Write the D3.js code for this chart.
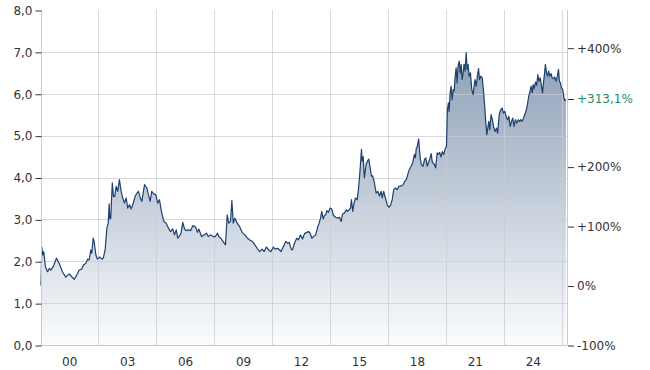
<!DOCTYPE html>
<html>
<head>
<meta charset="utf-8">
<style type="text/css">
	body{ margin:0; background:#fff; }
	svg{ display:block; font-family:"DejaVu Sans", Verdana, sans-serif; }
</style>
<script src="https://cdnjs.cloudflare.com/ajax/libs/d3/7.8.5/d3.min.js"></script>
</head>
<body>
<svg id="svg" width="650" height="370"></svg>
<script type="text/javascript">

	// decimal year of each point
	var years = [
		1999.04,1999.08,1999.13,1999.18,1999.27,1999.38,1999.48,1999.55,1999.67,1999.84,1999.98,
		2000.15,2000.32,2000.50,2000.63,2000.76,2000.89,
		2001.02,2001.14,2001.24,2001.36,2001.45,2001.53,2001.62,2001.67,2001.74,2001.79,2001.88,2001.96,
		2002.08,2002.19,2002.26,2002.36,2002.45,2002.52,2002.57,2002.60,2002.65,2002.73,2002.79,2002.86,2002.93,
		2003.01,2003.10,2003.19,2003.27,2003.36,2003.45,2003.53,2003.62,2003.71,2003.79,2003.92,
		2004.02,2004.09,2004.17,2004.26,2004.40,2004.52,2004.60,2004.69,2004.77,2004.88,2004.98,
		2005.08,2005.17,2005.29,2005.40,2005.52,2005.64,2005.74,2005.86,2005.95,
		2006.04,2006.12,2006.22,2006.29,2006.38,2006.47,2006.56,2006.67,2006.78,2006.90,
		2007.04,2007.14,2007.21,2007.35,2007.49,2007.61,2007.70,2007.83,2007.95,
		2008.07,2008.18,2008.24,2008.35,2008.47,2008.59,2008.68,2008.76,2008.85,2008.92,2008.99,
		2009.07,2009.20,2009.33,2009.45,2009.59,2009.73,2009.85,2009.99,
		2010.11,2010.23,2010.36,2010.49,2010.59,2010.71,2010.83,2010.93,2010.99,
		2011.07,2011.16,2011.30,2011.47,2011.59,2011.71,2011.81,2011.89,2011.99,
		2012.06,2012.16,2012.28,2012.37,2012.47,2012.58,2012.68,2012.80,2012.89,2012.97,
		2013.06,2013.14,2013.26,2013.37,2013.44,2013.52,2013.57,2013.65,2013.71,2013.78,2013.83,2013.92,
		2014.01,2014.09,2014.18,2014.30,2014.40,2014.49,2014.58,2014.65,2014.75,2014.84,2014.92,
		2015.06,2015.11,2015.18,2015.23,2015.32,2015.41,2015.49,2015.56,2015.63,2015.67,2015.72,2015.78,2015.87,2015.94,
		2016.01,2016.08,2016.15,2016.21,2016.30,2016.39,2016.47,2016.56,2016.65,2016.70,2016.78,2016.87,2016.96,
		2017.04,2017.13,2017.22,2017.30,2017.39,2017.48,2017.56,2017.70,2017.79,2017.87,2017.96,
		2018.05,2018.11,2018.20,2018.28,2018.37,2018.42,2018.47,2018.52,2018.59,2018.67,2018.73,2018.82,2018.90,2018.96,
		2019.03,2019.10,2019.16,2019.24,2019.30,2019.41,2019.47,2019.55,2019.61,2019.68,2019.75,2019.82,2019.89,2019.96,
		2020.03,2020.08,2020.13,2020.17,2020.22,2020.27,2020.32,2020.38,2020.43,2020.48,2020.53,2020.58,2020.63,2020.69,2020.74,2020.79,2020.84,2020.89,2020.94,2020.99,
		2021.05,2021.10,2021.15,2021.20,2021.27,2021.34,2021.41,2021.46,2021.51,2021.57,2021.63,2021.69,2021.74,2021.80,2021.88,2021.94,
		2022.01,2022.06,2022.12,2022.17,2022.22,2022.27,2022.34,2022.41,2022.48,2022.55,2022.62,2022.68,2022.76,2022.82,2022.91,2022.98,
		2023.05,2023.12,2023.19,2023.26,2023.33,2023.40,2023.46,2023.53,2023.60,2023.67,2023.75,2023.81,2023.88,2023.95,
		2024.02,2024.08,2024.15,2024.22,2024.29,2024.36,2024.41,2024.47,2024.52,2024.57,2024.64,2024.70,2024.76,2024.81,2024.88,2024.95,
		2025.00,2025.05,2025.10,2025.15,2025.21,2025.26,2025.32,2025.38,2025.45,2025.50,2025.57,2025.63,2025.71,2025.77,2025.83,2025.88,2025.93,2025.98,
		2026.05,2026.10,2026.15,2026.22
	];

	// price at each point
	var prices = [
		1.42,2.34,2.15,2.23,1.87,1.75,1.83,1.79,1.87,2.07,1.95,
		1.75,1.62,1.70,1.63,1.57,1.67,
		1.79,1.81,1.91,1.95,2.05,2.03,2.27,2.19,2.55,2.47,2.15,2.05,
		2.10,2.05,2.07,2.27,2.79,2.91,3.37,3.01,3.03,3.87,3.55,3.55,3.79,
		3.67,3.95,3.67,3.51,3.39,3.51,3.27,3.35,3.25,3.35,3.56,
		3.63,3.67,3.53,3.43,3.83,3.75,3.59,3.43,3.67,3.61,3.59,
		3.39,3.47,3.15,2.95,2.91,2.79,2.71,2.77,2.63,
		2.75,2.55,2.61,2.67,2.93,2.77,2.73,2.75,2.73,2.85,
		2.82,2.69,2.77,2.59,2.63,2.67,2.59,2.63,2.59,
		2.59,2.67,2.59,2.55,2.47,2.39,3.11,2.91,2.95,3.45,2.91,
		3.03,2.91,2.82,2.69,2.63,2.55,2.51,2.47,
		2.39,2.31,2.23,2.29,2.23,2.34,2.27,2.23,2.27,
		2.34,2.29,2.31,2.23,2.35,2.47,2.43,2.45,2.29,
		2.27,2.43,2.55,2.51,2.63,2.53,2.66,2.69,2.71,2.67,
		2.55,2.59,2.63,2.83,2.91,3.05,3.19,3.01,3.09,3.11,3.21,3.17,
		3.27,3.25,3.09,3.05,3.03,3.05,2.95,3.13,3.15,3.23,3.19,
		3.27,3.47,3.19,3.35,3.51,3.47,3.79,4.19,4.67,4.39,4.50,3.99,4.31,4.39,
		4.44,4.23,4.03,4.04,3.87,3.63,3.67,3.56,3.67,3.51,3.67,3.51,3.35,
		3.29,3.33,3.47,3.71,3.75,3.71,3.79,3.80,3.83,3.91,3.96,
		4.11,4.19,4.27,4.35,4.55,4.47,4.71,4.74,4.92,4.47,4.31,4.27,4.44,4.47,
		4.27,4.36,4.43,4.57,4.36,4.31,4.23,4.59,4.55,4.60,4.49,4.62,4.55,4.68,
		4.74,5.62,5.78,5.58,6.02,6.18,5.86,6.10,6.06,6.42,6.62,6.26,6.66,6.78,6.50,6.70,6.34,6.50,6.70,6.54,
		6.98,6.58,6.70,6.42,6.50,6.10,5.98,6.18,6.34,6.18,6.42,6.60,6.34,6.42,6.38,6.10,
		5.70,5.34,5.02,5.18,5.34,5.14,5.50,5.38,5.18,5.10,5.18,5.06,5.50,5.60,5.66,5.54,
		5.58,5.46,5.38,5.46,5.22,5.34,5.42,5.22,5.38,5.30,5.38,5.34,5.38,5.34,
		5.42,5.50,5.58,5.74,5.94,6.06,6.18,6.02,6.22,6.12,6.28,6.20,6.46,6.30,6.38,6.18,
		6.02,6.26,6.46,6.70,6.50,6.42,6.54,6.42,6.48,6.38,6.36,6.40,6.30,6.42,6.58,6.30,6.26,6.14,
		6.10,5.94,5.84,5.866
	];

	var priceTicks = [0,1,2,3,4,5,6,7,8];
	var gridPrices = [1,2,3,4,5,6,7];
	var pctTicks = [-100,0,100,200,400];
	var labelYears = [2000,2003,2006,2009,2012,2015,2018,2021,2024];
	var gridYears = [2002,2005,2008,2011,2014,2017,2020,2023,2026];
	var xRange = [1999.04, 2026.27];

	var W = 650, H = 370;
	var m = {left:41, top:10, right:83, bottom:25};
	var w = W - m.left - m.right, h = H - m.top - m.bottom;

	function toDate(y){
		var yr = Math.floor(y);
		var a = new Date(yr,0,1), b = new Date(yr+1,0,1);
		return new Date(+a + (y-yr)*(b-a));
	}

	var data = d3.zip(years, prices).map(function(d){ return {date:toDate(d[0]), v:d[1]}; });
	var base = prices[0], last = prices[prices.length-1];
	var lastPct = (last/base - 1)*100;

	var de = d3.formatLocale({decimal:",", thousands:".", grouping:[3], currency:["","€"], minus:"-"});
	var f1 = de.format(".1f");
	function pctFmt(p){ return (p>0 ? "+" : "") + p + "%"; }

	var x = d3.scaleTime().domain(xRange.map(toDate)).range([0,w]);
	var y = d3.scaleLinear().domain([0,8]).range([h,0]);
	var y2 = d3.scaleLinear().domain([(0/base-1)*100, (8/base-1)*100]).range([h,0]);

	var svg = d3.select("#svg");
	var defs = svg.append("defs");
	var grad = defs.append("linearGradient").attr("id","fade")
		.attr("gradientUnits","userSpaceOnUse").attr("x1",0).attr("y1",0).attr("x2",0).attr("y2",h);
	grad.append("stop").attr("offset","0%").attr("stop-color","#7d92ad");
	grad.append("stop").attr("offset","100%").attr("stop-color","#fbfcfd");

	var g = svg.append("g").attr("transform","translate("+m.left+","+m.top+")");

	//area + line
	g.append("path").datum(data)
		.attr("fill","url(#fade)")
		.attr("d", d3.area().x(function(d){ return x(d.date); }).y0(h).y1(function(d){ return y(d.v); }));

	//grid
	g.append("g").selectAll("line").data(gridPrices).enter().append("line")
		.attr("x1",0).attr("x2",w)
		.attr("y1",function(d){ return Math.round(y(d))+0.5; })
		.attr("y2",function(d){ return Math.round(y(d))+0.5; })
		.style("stroke","rgba(200,204,212,0.75)");
	g.append("g").selectAll("line").data(gridYears).enter().append("line")
		.attr("y1",0).attr("y2",h)
		.attr("x1",function(d){ return Math.round(x(toDate(d)))+0.5; })
		.attr("x2",function(d){ return Math.round(x(toDate(d)))+0.5; })
		.style("stroke","rgba(200,204,212,0.75)");

	g.append("path").datum(data)
		.attr("fill","none").attr("stroke","#1c416e").attr("stroke-width",1.2).attr("stroke-linejoin","round")
		.attr("d", d3.line().x(function(d){ return x(d.date); }).y(function(d){ return y(d.v); }));

	//frame lines
	g.append("line").attr("x1",0.5).attr("x2",0.5).attr("y1",0).attr("y2",h).style("stroke","#c6cad2");
	g.append("line").attr("x1",w+0.5).attr("x2",w+0.5).attr("y1",0).attr("y2",h).style("stroke","#c6cad2");
	g.append("line").attr("x1",0).attr("x2",w).attr("y1",h+0.5).attr("y2",h+0.5).style("stroke","#c6cad2");

	//left axis
	var ax = g.append("g").attr("transform","translate(0.5,0.5)")
		.call(d3.axisLeft(y).tickValues(priceTicks).tickFormat(f1).tickSize(6).tickPadding(3));
	ax.select(".domain").remove();
	ax.selectAll("line").attr("stroke","#333");
	ax.selectAll("text").attr("fill","#333").style("font-size","12px").style("font-family","DejaVu Sans");

	//right axis
	var ar = g.append("g").attr("transform","translate("+(w+1)+",0.5)")
		.call(d3.axisRight(y2).tickValues(pctTicks).tickFormat(pctFmt).tickSize(6).tickPadding(3));
	ar.select(".domain").remove();
	ar.selectAll("line").attr("stroke","#333");
	ar.selectAll("text").attr("fill","#333").style("font-size","12px").style("font-family","DejaVu Sans");

	var cur = g.append("g").attr("transform","translate("+(w+1)+","+(Math.round(y2(lastPct))+0.5)+")");
	cur.append("line").attr("x2",6).attr("stroke","#333");
	cur.append("text").attr("x",9).attr("dy","0.32em")
		.style("font-size","12px").style("font-family","DejaVu Sans").attr("fill","#1b8c68")
		.text("+" + de.format(".1f")(lastPct) + "%");

	//bottom labels
	var ab = g.append("g").attr("transform","translate(0,"+h+")")
		.call(d3.axisBottom(x).tickValues(labelYears.map(function(d){ return toDate(d+0.5); }))
			.tickFormat(d3.timeFormat("%y")).tickSize(0).tickPadding(12));
	ab.select(".domain").remove();
	ab.selectAll("text").attr("fill","#333").style("font-size","12px").style("font-family","DejaVu Sans");

</script>
</body>
</html>
